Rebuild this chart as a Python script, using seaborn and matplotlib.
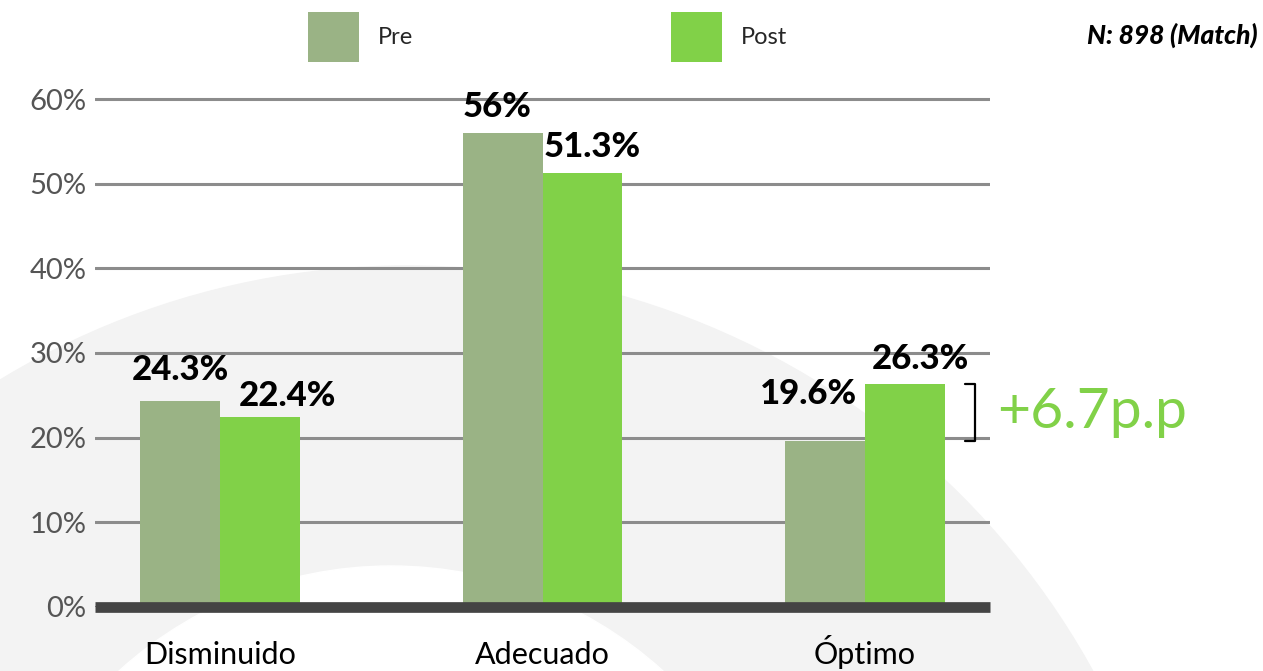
import numpy as np
import pandas as pd
import matplotlib
matplotlib.use('Agg')
import matplotlib.pyplot as plt
import seaborn as sns
from matplotlib.patches import Ellipse
from matplotlib.ticker import PercentFormatter

# data
categories = ['Disminuido', 'Adecuado', 'Óptimo']
periods = ['Pre', 'Post']
pre_values = [24.3, 56, 19.6]
post_values = [22.4, 51.3, 26.3]
y_ticks = [0, 10, 20, 30, 40, 50, 60]
sample_note = 'N: 898 (Match)'

PRE_COLOR = '#9ab385'
POST_COLOR = '#81d148'

df = pd.DataFrame({
    'Categoria': categories * 2,
    'Periodo': ['Pre'] * 3 + ['Post'] * 3,
    'Valor': pre_values + post_values,
})

sns.set_theme(style='white')
plt.rcParams['font.family'] = ['Lato', 'DejaVu Sans']

W, H = 1263, 671
fig = plt.figure(figsize=(W / 100, H / 100), dpi=100)
fig.patch.set_facecolor('white')

# decorative background ring
outer = Ellipse((407 / W, 1 - 1049 / H), 2 * 783 / W, 2 * 783 / H,
                transform=fig.transFigure, color='#f3f3f3', zorder=-2)
inner = Ellipse((391 / W, 1 - 971 / H), 2 * 405 / W, 2 * 405 / H,
                transform=fig.transFigure, color='white', zorder=-1)
fig.patches.extend([outer, inner])

ax = fig.add_axes([95 / W, 64.2 / H, 895 / W, 524.7 / H])
ax.patch.set_alpha(0)

sns.barplot(data=df, x='Categoria', y='Valor', hue='Periodo', hue_order=periods,
            palette={'Pre': PRE_COLOR, 'Post': POST_COLOR}, saturation=1,
            width=0.496, gap=0, linewidth=0, ax=ax, zorder=2)

ax.set_xlim(-0.388, 2.388)
ax.set_ylim(0, 62)
ax.set_yticks(y_ticks)
ax.yaxis.set_major_formatter(PercentFormatter(100, decimals=0))
ax.set_axisbelow(True)
ax.yaxis.grid(True, color='#8c8c8c', lw=2.2)
ax.axhline(0, color='#444444', lw=7.7, zorder=4, clip_on=False,
           solid_capstyle='butt')
for s in ax.spines.values():
    s.set_visible(False)
ax.tick_params(axis='both', length=0)
ax.tick_params(axis='y', pad=6, labelsize=21, labelcolor='#555555')
ax.tick_params(axis='x', pad=41, labelsize=22, labelcolor='black')
for lbl in ax.get_xticklabels():
    lbl.set_verticalalignment('baseline')
ax.set_xlabel('')
ax.set_ylabel('')

# value labels (offsets in points, per bar)
offsets = {
    'Pre': [(0, 11), (-4, 7), (-12, 22)],
    'Post': [(20, 4), (7, 7), (11, 7)],
}
for cont, period in zip(ax.containers, periods):
    for i, bar in enumerate(cont):
        v = bar.get_height()
        dx, dy = offsets[period][i]
        ax.annotate(f'{v:g}%', (bar.get_x() + bar.get_width() / 2, v),
                    xytext=(dx, dy), textcoords='offset points',
                    ha='center', va='bottom', fontsize=25, fontweight='black',
                    color='black', zorder=5, annotation_clip=False)

# bracket showing the change on Óptimo
diff = post_values[2] - pre_values[2]
bx = 2.341
ax.plot([bx - 0.03, bx, bx, bx - 0.03],
        [post_values[2], post_values[2], pre_values[2], pre_values[2]],
        color='black', lw=1.6, clip_on=False, zorder=5)
ax.text(bx + 0.07, (post_values[2] + pre_values[2]) / 2, f'+{diff:.1f}p.p',
        color=POST_COLOR, fontsize=41, ha='left', va='center', clip_on=False)

# legend
sns.move_legend(ax, loc='upper left', bbox_to_anchor=(308 / W, 1 - 12 / H),
                bbox_transform=fig.transFigure, ncol=2, frameon=False, title=None,
                fontsize=17, handlelength=2.16, handleheight=2.9,
                handletextpad=0.8, columnspacing=10.9, borderpad=0, borderaxespad=0)

fig.text(1258 / W, 1 - 35 / H, sample_note, ha='right', va='center',
         fontsize=19, fontweight='black', fontstyle='italic', color='black')

fig.savefig('out.png', dpi=100)
